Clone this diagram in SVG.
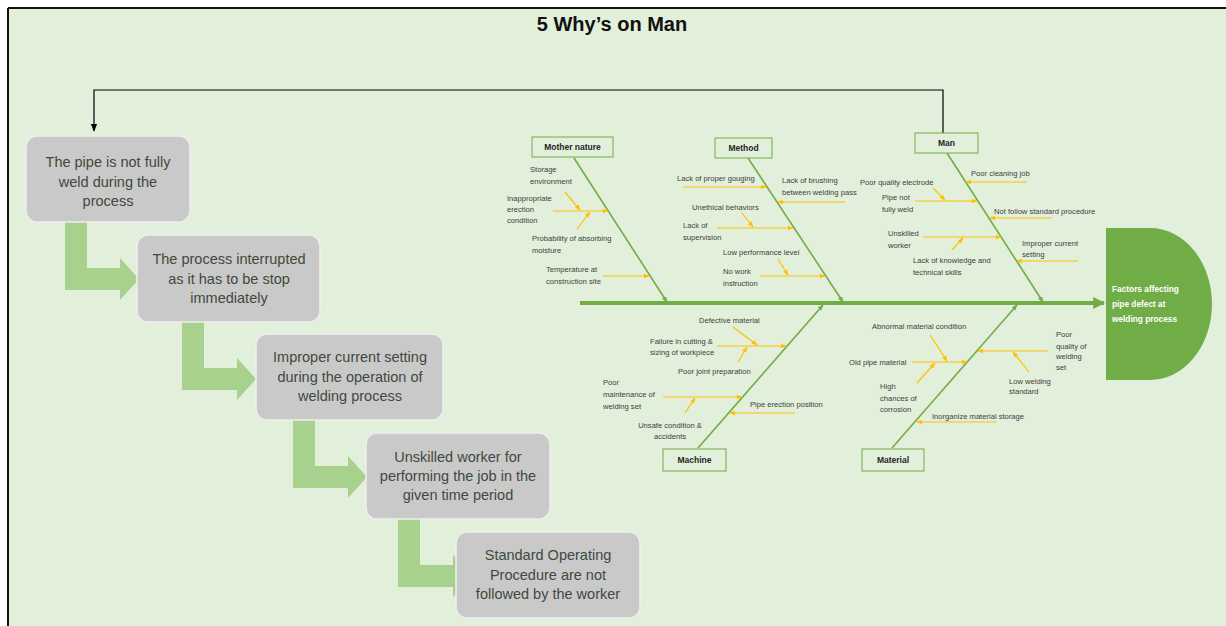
<svg xmlns="http://www.w3.org/2000/svg" width="1226" height="626" viewBox="0 0 1226 626">
<defs>
<style>
.why{fill:#c9c9c9;stroke:#eeeeee;stroke-width:1.5}
.wt{font-family:"Liberation Sans",Arial,sans-serif;font-size:14.5px;fill:#3e4a3c;text-anchor:middle}
.bend{fill:#a9d18e}
.cat{fill:#e2efda;stroke:#70ad47;stroke-width:1}
.ct{font-family:"Liberation Sans",Arial,sans-serif;font-size:8.5px;font-weight:bold;fill:#262626;text-anchor:middle}
.st{font-family:"Liberation Sans",Arial,sans-serif;font-size:7.6px;fill:#404040}
.bone{stroke:#70ad47;stroke-width:1.6;fill:none}
.sub{stroke:#ffc000;stroke-width:1.2;fill:none;marker-end:url(#oa)}
</style>
<marker id="oa" viewBox="0 0 10 10" refX="9" refY="5" markerWidth="6" markerHeight="6" markerUnits="userSpaceOnUse" orient="auto"><path d="M0,1 L10,5 L0,9 Z" fill="#ffc000"/></marker>
<marker id="ga" viewBox="0 0 10 10" refX="9" refY="5" markerWidth="6" markerHeight="6" markerUnits="userSpaceOnUse" orient="auto"><path d="M0,1 L10,5 L0,9 Z" fill="#70ad47"/></marker>
<marker id="sa" viewBox="0 0 10 10" refX="9" refY="5" markerWidth="12" markerHeight="12" markerUnits="userSpaceOnUse" orient="auto"><path d="M0,0 L10,5 L0,10 Z" fill="#70ad47"/></marker>
<marker id="ba" viewBox="0 0 10 10" refX="9" refY="5" markerWidth="8" markerHeight="8" markerUnits="userSpaceOnUse" orient="auto"><path d="M0,1 L10,5 L0,9 Z" fill="#000"/></marker>
</defs>
<rect x="0" y="0" width="1226" height="626" fill="#ffffff"/>
<rect x="8" y="8" width="1218" height="618" fill="#e2efda"/>
<line x1="8" y1="8" x2="1226" y2="8" stroke="#111" stroke-width="2"/>
<line x1="8" y1="8" x2="8" y2="626" stroke="#111" stroke-width="2"/>
<text x="612" y="31" font-family="'Liberation Sans',Arial,sans-serif" font-size="20" font-weight="bold" fill="#111" text-anchor="middle">5 Why’s on Man</text>

<g id="connectors">
<path d="M943,133 V90 H94 V131" stroke="#000" stroke-width="1.2" fill="none" marker-end="url(#ba)"/>
<path class="bend" d="M65,222 H87 V268 H120 V258 L139,279 L120,300 V290 H65 Z"/>
<path class="bend" d="M182,322 H204 V368 H237 V358 L256,379 L237,400 V390 H182 Z"/>
<path class="bend" d="M293,420 H315 V466 H348 V456 L367,477 L348,498 V488 H293 Z"/>
<path class="bend" d="M398,519 H420 V565 H453 V555 L472,576 L453,597 V587 H398 Z"/>
<line x1="580" y1="303" x2="1104" y2="303" stroke="#70ad47" stroke-width="4" marker-end="url(#sa)"/>
<line class="bone" x1="574" y1="158" x2="667" y2="302" marker-end="url(#ga)"/>
<line class="bone" x1="748" y1="158" x2="843" y2="302" marker-end="url(#ga)"/>
<line class="bone" x1="947" y1="153" x2="1043" y2="302" marker-end="url(#ga)"/>
<line class="bone" x1="698" y1="448" x2="823" y2="305" marker-end="url(#ga)"/>
<line class="bone" x1="892" y1="448" x2="1017" y2="305" marker-end="url(#ga)"/>
<!-- mother nature -->
<line class="sub" x1="553" y1="211" x2="608" y2="211"/>
<line class="sub" x1="565" y1="192" x2="580" y2="210"/>
<line class="sub" x1="577" y1="229" x2="590" y2="212"/>
<line class="sub" x1="603" y1="276" x2="649" y2="276"/>
<!-- method -->
<line class="sub" x1="683" y1="187" x2="766" y2="187"/>
<line class="sub" x1="845" y1="202" x2="778" y2="202"/>
<line class="sub" x1="742" y1="213" x2="753" y2="227"/>
<line class="sub" x1="717" y1="228" x2="793" y2="228"/>
<line class="sub" x1="778" y1="259" x2="788" y2="275"/>
<line class="sub" x1="760" y1="276" x2="825" y2="276"/>
<!-- man -->
<line class="sub" x1="1027" y1="182" x2="966" y2="182"/>
<line class="sub" x1="933" y1="188" x2="945" y2="200"/>
<line class="sub" x1="915" y1="201" x2="977" y2="201"/>
<line class="sub" x1="1052" y1="218" x2="990" y2="218"/>
<line class="sub" x1="923" y1="237" x2="1001" y2="237"/>
<line class="sub" x1="952" y1="250" x2="963" y2="238"/>
<line class="sub" x1="1078" y1="261" x2="1017" y2="261"/>
<!-- machine -->
<line class="sub" x1="717" y1="346" x2="786" y2="346"/>
<line class="sub" x1="733" y1="327" x2="757" y2="345"/>
<line class="sub" x1="738" y1="362" x2="747" y2="347"/>
<line class="sub" x1="663" y1="397" x2="742" y2="397"/>
<line class="sub" x1="685" y1="413" x2="695" y2="398"/>
<line class="sub" x1="795" y1="413" x2="730" y2="413"/>
<!-- material -->
<line class="sub" x1="912" y1="362" x2="967" y2="362"/>
<line class="sub" x1="930" y1="335" x2="947" y2="361"/>
<line class="sub" x1="917" y1="383" x2="935" y2="363"/>
<line class="sub" x1="1048" y1="351" x2="978" y2="351"/>
<line class="sub" x1="1029" y1="372" x2="1013" y2="352"/>
<line class="sub" x1="997" y1="422" x2="917" y2="422"/>
</g>

<g id="why1"><rect class="why" x="26" y="136" width="164" height="86" rx="11"/>
<text class="wt" x="108"><tspan x="108" y="167">The pipe is not fully</tspan><tspan x="108" y="187">weld during the</tspan><tspan x="108" y="206">process</tspan></text></g>
<g id="why2"><rect class="why" x="137" y="235" width="183" height="87" rx="11"/>
<text class="wt"><tspan x="229" y="264">The process interrupted</tspan><tspan x="229" y="284">as it has to be stop</tspan><tspan x="229" y="303">immediately</tspan></text></g>
<g id="why3"><rect class="why" x="256" y="334" width="187" height="86" rx="11"/>
<text class="wt"><tspan x="350" y="362">Improper current setting</tspan><tspan x="350" y="382">during the operation of</tspan><tspan x="350" y="401">welding process</tspan></text></g>
<g id="why4"><rect class="why" x="366" y="433" width="184" height="86" rx="11"/>
<text class="wt"><tspan x="458" y="462">Unskilled worker for</tspan><tspan x="458" y="481">performing the job in the</tspan><tspan x="458" y="500">given time period</tspan></text></g>
<g id="why5"><rect class="why" x="456" y="532" width="184" height="86" rx="11"/>
<text class="wt"><tspan x="548" y="560">Standard Operating</tspan><tspan x="548" y="580">Procedure are not</tspan><tspan x="548" y="599">followed by the worker</tspan></text></g>

<g id="head"><path d="M1106,228 H1150 A62,76 0 0 1 1150,380 H1106 Z" fill="#70ad47"/>
<text font-family="'Liberation Sans',Arial,sans-serif" font-size="8.3" font-weight="bold" fill="#fff"><tspan x="1112" y="292">Factors affecting</tspan><tspan x="1112" y="307">pipe defect at</tspan><tspan x="1112" y="322">welding process</tspan></text></g>

<g id="cat-mother"><rect class="cat" x="532" y="137" width="81" height="20"/><text class="ct" x="572.5" y="150">Mother nature</text></g>
<g id="cat-method"><rect class="cat" x="715" y="138" width="57" height="20"/><text class="ct" x="743.5" y="151">Method</text></g>
<g id="cat-man"><rect class="cat" x="915" y="133" width="63" height="20"/><text class="ct" x="946.5" y="146">Man</text></g>
<g id="cat-machine"><rect class="cat" x="663" y="449" width="63" height="22"/><text class="ct" x="694.5" y="463">Machine</text></g>
<g id="cat-material"><rect class="cat" x="862" y="449" width="62" height="22"/><text class="ct" x="893" y="463">Material</text></g>

<g id="causes">
<text class="st"><tspan x="530" y="172">Storage</tspan><tspan x="530" y="184">environment</tspan></text>
<text class="st"><tspan x="507" y="201">Inappropriate</tspan><tspan x="507" y="212">erection</tspan><tspan x="507" y="223">condition</tspan></text>
<text class="st"><tspan x="532" y="241">Probability of absorbing</tspan><tspan x="532" y="253">moisture</tspan></text>
<text class="st"><tspan x="546" y="272">Temperature at</tspan><tspan x="546" y="284">construction site</tspan></text>

<text class="st" x="677" y="181">Lack of proper gouging</text>
<text class="st"><tspan x="782" y="183">Lack of brushing</tspan><tspan x="782" y="195">between welding pass</tspan></text>
<text class="st" x="692" y="210">Unethical behaviors</text>
<text class="st"><tspan x="683" y="228">Lack of</tspan><tspan x="683" y="240">supervision</tspan></text>
<text class="st" x="723" y="255">Low performance level</text>
<text class="st"><tspan x="723" y="274">No work</tspan><tspan x="723" y="286">instruction</tspan></text>

<text class="st" x="971" y="176">Poor cleaning job</text>
<text class="st" x="860" y="185">Poor quality electrode</text>
<text class="st"><tspan x="882" y="200">Pipe not</tspan><tspan x="882" y="212">fully weld</tspan></text>
<text class="st" x="994" y="214">Not follow standard procedure</text>
<text class="st"><tspan x="888" y="236">Unskilled</tspan><tspan x="888" y="248">worker</tspan></text>
<text class="st"><tspan x="913" y="263">Lack of knowledge and</tspan><tspan x="913" y="275">technical skills</tspan></text>
<text class="st"><tspan x="1022" y="246">Improper current</tspan><tspan x="1022" y="257">setting</tspan></text>

<text class="st" x="699" y="323">Defective material</text>
<text class="st"><tspan x="650" y="344">Failure in cutting &amp;</tspan><tspan x="650" y="355">sizing of workpiece</tspan></text>
<text class="st" x="678" y="374">Poor joint preparation</text>
<text class="st"><tspan x="603" y="385">Poor</tspan><tspan x="603" y="397">maintenance of</tspan><tspan x="603" y="409">welding set</tspan></text>
<text class="st" text-anchor="middle"><tspan x="670" y="428">Unsafe condition &amp;</tspan><tspan x="670" y="439">accidents</tspan></text>
<text class="st" x="750" y="407">Pipe erection position</text>

<text class="st" x="872" y="329">Abnormal material condition</text>
<text class="st" x="849" y="365">Old pipe material</text>
<text class="st"><tspan x="880" y="389">High</tspan><tspan x="880" y="401">chances of</tspan><tspan x="880" y="412">corrosion</tspan></text>
<text class="st"><tspan x="1056" y="337">Poor</tspan><tspan x="1056" y="349">quality of</tspan><tspan x="1056" y="359">welding</tspan><tspan x="1056" y="370">set</tspan></text>
<text class="st"><tspan x="1009" y="384">Low welding</tspan><tspan x="1009" y="394">standard</tspan></text>
<text class="st" x="932" y="419">Inorganize material storage</text>
</g>
</svg>
